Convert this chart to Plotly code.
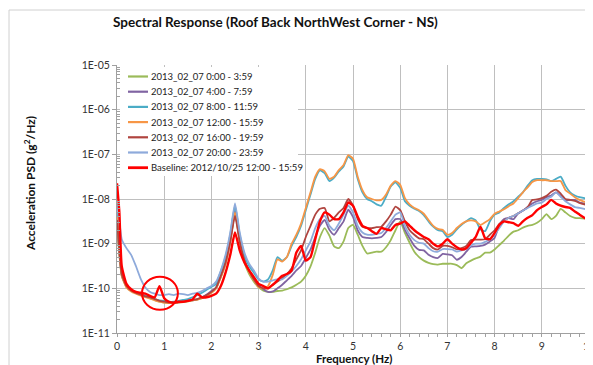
import plotly.graph_objects as go
import numpy as np

# Frequency axis (Hz)
freq = [0.0, 0.05] + [round(0.1 * i, 1) for i in range(1, 101)]

# log10 of acceleration PSD (g^2/Hz)
green_log = [
    -8.6, -9.25, -9.72, -9.97, -10.06, -10.1, -10.15, -10.18, -10.22, -10.26, -10.3, -10.32, -10.33, -10.32, -10.31, -10.3, -10.29, -10.27, -10.25, -10.22, -10.16, -10.1,
    -10.0, -9.75, -9.45, -8.95, -8.3, -8.95, -9.42, -9.68, -9.85, -9.98,
    -10.05, -10.08, -10.08, -10.06, -10.05, -10.02, -9.98, -9.92, -9.85, -9.72,
    -9.51, -9.2, -8.85, -8.65, -8.82, -9.06, -9.1, -8.95, -8.65, -8.58,
    -8.8, -9.05, -9.22, -9.2, -9.18, -9.18, -9.08, -8.92, -8.7, -8.5,
    -8.76, -8.98, -9.18, -9.3, -9.38, -9.43, -9.46, -9.47, -9.45, -9.45,
    -9.45, -9.48, -9.55, -9.44, -9.38, -9.33, -9.29, -9.2, -9.2, -9.13,
    -9.03, -8.93, -8.82, -8.73, -8.7, -8.64, -8.6, -8.58, -8.53, -8.45, -8.34, -8.45, -8.38, -8.22, -8.3, -8.38, -8.42, -8.43, -8.44, -8.45,
]
purple_log = [
    -8.5, -9.2, -9.7, -9.95, -10.05, -10.1, -10.13, -10.17, -10.2, -10.25, -10.28, -10.3, -10.32, -10.33, -10.32, -10.3, -10.28, -10.27, -10.25, -10.2, -10.14, -10.06,
    -9.98, -9.7, -9.4, -8.9, -8.25, -8.9, -9.35, -9.6, -9.78, -9.92,
    -10.02, -10.08, -10.07, -10.0, -9.92, -9.82, -9.72, -9.6, -9.5, -9.32,
    -9.13, -8.85, -8.6, -8.47, -8.69, -8.8, -8.65, -8.5, -8.24, -8.4,
    -8.7, -8.85, -8.87, -8.88, -8.87, -8.85, -8.74, -8.58, -8.45, -8.45,
    -8.69, -8.88, -9.05, -9.14, -9.15, -9.25, -9.3, -9.32, -9.23, -9.24,
    -9.26, -9.36, -9.3, -9.18, -9.07, -9.06, -9.05, -9.02, -8.95, -8.87,
    -8.58, -8.45, -8.43, -8.45, -8.32, -8.26, -8.18, -8.1, -8.05, -8.02, -7.96, -7.92, -7.85, -7.92, -8.03, -8.02, -8.02, -8.08, -8.1, -8.13,
]
cyan_log = [
    -8.3, -9.1, -9.68, -9.95, -10.05, -10.1, -10.14, -10.17, -10.2, -10.24, -10.27, -10.28, -10.3, -10.3, -10.28, -10.26, -10.24, -10.2, -10.15, -10.1, -10.03, -9.97,
    -9.9, -9.62, -9.3, -8.8, -8.15, -8.8, -9.25, -9.5, -9.65, -9.8,
    -9.85, -9.8, -9.6, -9.3, -9.38, -9.3, -9.05, -8.85, -8.6, -8.25,
    -7.9, -7.55, -7.36, -7.42, -7.6, -7.52, -7.38, -7.27, -7.05, -7.15,
    -7.55, -7.85, -8.0, -8.05, -8.12, -8.15, -7.95, -7.72, -7.63, -7.75,
    -8.05, -8.15, -8.22, -8.27, -8.36, -8.5, -8.62, -8.7, -8.72, -8.85,
    -8.8, -8.68, -8.58, -8.5, -8.43, -8.48, -8.68, -8.72, -8.5, -8.35,
    -8.3, -8.2, -8.12, -8.05, -7.95, -7.85, -7.7, -7.58, -7.55, -7.55, -7.56, -7.6, -7.55, -7.5, -7.7, -7.85, -7.92, -7.96, -7.98, -8.0,
]
orange_log = [
    -8.4, -9.2, -9.72, -9.98, -10.07, -10.12, -10.16, -10.2, -10.23, -10.27, -10.3, -10.32, -10.33, -10.33, -10.32, -10.31, -10.29, -10.27, -10.25, -10.22, -10.17, -10.1,
    -10.0, -9.75, -9.45, -8.95, -8.3, -8.95, -9.4, -9.65, -9.82, -9.97,
    -10.0, -9.95, -9.7, -9.35, -9.4, -9.3, -9.0, -8.8, -8.55, -8.2,
    -7.85, -7.5, -7.33, -7.38, -7.55, -7.5, -7.35, -7.24, -7.02, -7.1,
    -7.5, -7.8, -7.96, -8.0, -8.03, -8.02, -7.9, -7.7, -7.6, -7.68,
    -7.98, -8.12, -8.2, -8.25, -8.33, -8.47, -8.6, -8.67, -8.69, -8.8,
    -8.76, -8.65, -8.56, -8.5, -8.48, -8.5, -8.58, -8.52, -8.45, -8.33,
    -8.28, -8.23, -8.16, -8.1, -7.98, -7.85, -7.74, -7.62, -7.58, -7.58, -7.58, -7.6, -7.6, -7.6, -7.8, -7.88, -7.96, -8.02, -8.06, -8.1,
]
darkred_log = [
    -8.47, -9.15, -9.68, -9.95, -10.05, -10.1, -10.14, -10.18, -10.2, -10.24, -10.28, -10.3, -10.32, -10.32, -10.31, -10.3, -10.28, -10.26, -10.24, -10.2, -10.15, -10.08,
    -9.98, -9.72, -9.42, -8.95, -8.38, -8.95, -9.38, -9.62, -9.8, -9.95,
    -10.0, -10.0, -9.92, -9.85, -9.77, -9.68, -9.55, -9.35, -9.15, -8.85,
    -8.6, -8.35, -8.22, -8.2, -8.5, -8.42, -8.3, -8.2, -8.0, -8.15,
    -8.45, -8.62, -8.65, -8.65, -8.63, -8.62, -8.5, -8.35, -8.17, -8.25,
    -8.5, -8.7, -8.8, -8.88, -8.9, -9.0, -9.1, -9.13, -9.05, -9.05,
    -9.08, -9.13, -9.1, -9.05, -8.92, -8.91, -8.91, -8.9, -8.8, -8.7,
    -8.56, -8.48, -8.42, -8.38, -8.32, -8.26, -8.18, -8.02, -8.01, -7.98, -7.93, -7.84, -7.79, -7.88, -8.0, -8.02, -8.04, -8.09, -8.12, -8.14,
]
lightblue_log = [
    -8.1, -8.5, -8.9, -9.1, -9.25, -9.5, -9.78, -9.98, -10.08, -10.12, -10.15, -10.15, -10.13, -10.15, -10.12, -10.13, -10.15, -10.12, -10.1, -10.06, -10.0, -9.95,
    -9.85, -9.6, -9.25, -8.75, -8.1, -8.75, -9.2, -9.45, -9.6, -9.78,
    -9.85, -9.85, -9.82, -9.8, -9.8, -9.72, -9.62, -9.5, -9.35, -9.15,
    -8.95, -8.65, -8.45, -8.38, -8.6, -8.7, -8.55, -8.35, -8.15, -8.3,
    -8.6, -8.75, -8.8, -8.8, -8.78, -8.76, -8.65, -8.5, -8.35, -8.3,
    -8.6, -8.8, -8.92, -8.98, -9.0, -9.1, -9.17, -9.18, -9.12, -9.12,
    -9.13, -9.18, -9.15, -9.12, -9.04, -9.0, -9.0, -8.96, -8.9, -8.8,
    -8.65, -8.5, -8.42, -8.38, -8.32, -8.26, -8.2, -8.15, -8.1, -8.08, -8.0, -7.95, -7.85, -7.95, -8.05, -8.12, -8.18, -8.2, -8.22, -8.24,
]
baseline_log = [
    -7.65, -8.3, -9.5, -9.9, -10.02, -10.08, -10.1, -10.12, -10.17, -10.2, -9.95, -10.22, -10.3, -10.32, -10.3, -10.3, -10.28, -10.25, -10.12, -10.2, -10.2, -10.17,
    -10.12, -9.95, -9.65, -9.25, -8.75, -9.15, -9.42, -9.6, -9.75, -9.9,
    -9.95, -10.0, -9.92, -9.82, -9.72, -9.68, -9.6, -9.2, -9.05, -9.38,
    -9.3, -8.9, -8.5, -8.3, -8.35, -8.45, -8.45, -8.3, -8.08, -8.15,
    -8.4, -8.6, -8.65, -8.72, -8.78, -8.65, -8.68, -8.7, -8.58, -8.55,
    -8.5, -8.6, -8.7, -8.78, -8.85, -8.9, -9.0, -9.06, -9.0, -8.9,
    -9.0, -9.08, -9.13, -9.1, -8.98, -8.85, -8.62, -8.88, -8.9, -8.76,
    -8.58, -8.5, -8.52, -8.54, -8.6, -8.5, -8.42, -8.36, -8.25, -8.18, -8.12, -8.02, -8.1, -8.15, -8.18, -8.2, -8.28, -8.35, -8.42, -8.47,
]

series_names = [
    "2013_02_07 0:00 - 3:59",
    "2013_02_07 4:00 - 7:59",
    "2013_02_07 8:00 - 11:59",
    "2013_02_07 12:00 - 15:59",
    "2013_02_07 16:00 - 19:59",
    "2013_02_07 20:00 - 23:59",
    "Baseline: 2012/10/25 12:00 - 15:59",
]
series_logs = [green_log, purple_log, cyan_log, orange_log, darkred_log, lightblue_log, baseline_log]
series_colors = ["#9BBB59", "#8064A2", "#4BACC6", "#F79646", "#B0443F", "#8EAADB", "#FF0000"]
series_widths = [1.8, 1.8, 1.8, 1.8, 1.8, 1.8, 2.4]

y_tickvals = [1e-11, 1e-10, 1e-9, 1e-8, 1e-7, 1e-6, 1e-5]
y_ticktext = ["1E-11", "1E-10", "1E-09", "1E-08", "1E-07", "1E-06", "1E-05"]
x_tickvals = list(range(0, 11))

FONT = "Lato"
OFF = 8  # browser body margin: the figure is drawn starting at (8, 8) on screen
W, H = 593 - OFF, 365 - OFF
L, R, T, B = 117 - OFF, 4, 65 - OFF, 32
PW, PH = W - L - R, H - T - B


def px_x(px):
    """screen x pixel -> paper x"""
    return (px - OFF - L) / PW


def px_y(py):
    """screen y pixel -> paper y"""
    return (H - B - (py - OFF)) / PH


fig = go.Figure()
for name, logs, col, w in zip(series_names, series_logs, series_colors, series_widths):
    assert len(logs) == len(freq), name
    fig.add_trace(go.Scatter(
        x=freq, y=10 ** np.array(logs), name=name, mode="lines", showlegend=False,
        line=dict(color=col, width=w, shape="spline", smoothing=0.5),
    ))

minor_y = [m * 10.0 ** e for e in range(-11, -5) for m in range(2, 10)]

annotations = [
    dict(text="<b>Spectral Response (Roof Back NorthWest Corner - NS)</b>", xref="paper", yref="paper",
         x=px_x(275), y=px_y(22), xanchor="center", yanchor="middle", showarrow=False,
         font=dict(family=FONT, size=13.5, color="#111111")),
    dict(text="<b>Frequency (Hz)</b>", xref="paper", yref="paper",
         x=px_x(354), y=px_y(358.5), xanchor="center", yanchor="middle", showarrow=False,
         font=dict(family=FONT, size=11.5, color="#111111")),
    dict(text="<b>Acceleration PSD (g<sup>2</sup>/Hz)</b>", xref="paper", yref="paper",
         x=px_x(30), y=px_y(184), xanchor="center", yanchor="middle", showarrow=False, textangle=-90,
         font=dict(family=FONT, size=12, color="#111111")),
]

shapes = [
    # Chart-area border
    dict(type="rect", xref="paper", yref="paper", x0=px_x(9), x1=px_x(610), y0=px_y(380), y1=px_y(10),
         line=dict(color="#D0D0D0", width=1), layer="below"),
    # legend background
    dict(type="rect", xref="paper", yref="paper", x0=px_x(120), x1=px_x(298), y0=px_y(176), y1=px_y(67),
         line=dict(width=0), fillcolor="white", layer="above"),
    # Red ellipse highlighting the ~1 Hz bump of the baseline
    dict(type="circle", xref="x", yref="y", x0=0.53, x1=1.29, y0=10 ** -10.48, y1=10 ** -9.74,
         line=dict(color="#FF0000", width=2)),
]

# manual legend (compact, like the original)
leg_top, leg_step = 76.5, 15.2
for i, (name, col, w) in enumerate(zip(series_names, series_colors, series_widths)):
    yy = leg_top + i * leg_step
    shapes.append(dict(type="line", xref="paper", yref="paper", x0=px_x(128), x1=px_x(148),
                       y0=px_y(yy), y1=px_y(yy), line=dict(color=col, width=w + 0.4), layer="above"))
    annotations.append(dict(text=name, xref="paper", yref="paper", x=px_x(149), y=px_y(yy),
                            xanchor="left", yanchor="middle", showarrow=False,
                            font=dict(family=FONT, size=9.5, color="#222222")))

fig.update_layout(
    width=W, height=H,
    margin=dict(l=L, r=R, t=T, b=B, autoexpand=False),
    paper_bgcolor="white", plot_bgcolor="white",
    font=dict(family=FONT, size=10, color="#333333"),
    showlegend=False,
    annotations=annotations,
    shapes=shapes,
)
fig.update_xaxes(
    range=[0, 10], tickvals=x_tickvals, showgrid=True, gridcolor="#BFBFBF", gridwidth=1,
    showline=True, linecolor="#A0A0A0", linewidth=1, zeroline=False, automargin=False,
    ticks="outside", ticklen=3, tickcolor="#A0A0A0", ticklabeloverflow="allow",
    minor=dict(dtick=0.2, ticks="outside", ticklen=3, tickcolor="#A0A0A0", showgrid=False),
    tickfont=dict(family=FONT, size=10.5, color="#333333"),
)
fig.update_yaxes(
    type="log", range=[-11, -5], tickvals=y_tickvals, ticktext=y_ticktext,
    showgrid=True, gridcolor="#BFBFBF", gridwidth=1, automargin=False,
    showline=True, linecolor="#A0A0A0", linewidth=1, zeroline=False,
    ticks="outside", ticklen=4, tickcolor="#A0A0A0",
    minor=dict(tickvals=minor_y, ticks="inside", ticklen=3, tickcolor="#A0A0A0", showgrid=False),
    tickfont=dict(family=FONT, size=10.5, color="#333333"),
)

fig.write_html("out.html")
